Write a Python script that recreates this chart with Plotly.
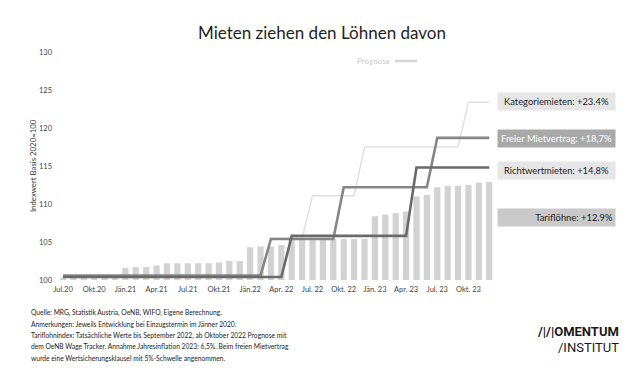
import plotly.graph_objects as go

# ---------------- data ----------------
months = list(range(42))  # Jul.20 .. Dez.23, monthly
tick_pos = list(range(0, 42, 3))
tick_labels = ["Jul.20", "Okt.20", "Jän.21", "Apr.21", "Jul.21", "Okt.21", "Jän.22",
               "Apr. 22", "Jul. 22", "Okt. 22", "Jän. 23", "Apr. 23", "Jul. 23", "Okt. 23"]

tarifloehne = [100.3, 100.3, 100.3, 100.3, 100.3, 100.3,
               101.6, 101.7, 101.7, 101.9, 102.2, 102.2, 102.2, 102.2, 102.2, 102.3, 102.5, 102.5,
               104.3, 104.4, 104.4, 104.6, 105.4, 105.4, 105.4, 105.4, 105.4, 105.4, 105.4, 105.4,
               108.4, 108.6, 108.8, 109.0, 111.0, 111.2, 112.2, 112.4, 112.4, 112.5, 112.8, 112.9]

richtwert = [100.4] * 22 + [105.8] * 12 + [114.8] * 8
freier = [100.6] * 20 + [105.4] * 7 + [112.2] * 9 + [118.7] * 6
kategorie = [100.5] * 20 + [105.5] * 4 + [111.1] * 5 + [117.5] * 10 + [123.4] * 3

y_ticks = [100, 105, 110, 115, 120, 125, 130]

label_texts = ["Kategoriemieten: +23.4%", "Freier Mietvertrag: +18,7%",
               "Richtwertmieten: +14,8%", "Tariflöhne: +12.9%"]

footnotes = [
    "Quelle: MRG, Statistik Austria, OeNB, WIFO, Eigene Berechnung.",
    "Anmerkungen: Jeweils Entwicklung bei Einzugstermin im Jänner 2020.",
    "Tariflohnindex: Tatsächliche Werte bis September 2022, ab Oktober 2022 Prognose mit",
    "dem OeNB Wage Tracker. Annahme Jahresinflation 2023: 6,5%. Beim freien Mietvertrag",
    "wurde eine Wertsicherungsklausel mit 5%-Schwelle angenommen.",
]

# ---------------- layout geometry ----------------
OFF = 8  # page body margin offset
W, H = 642 - OFF, 370 - OFF
L, R, T, B = 57 - OFF, 146, 52 - OFF, 90
PW, PH = W - L - R, H - T - B

def px_x(px):
    return (px - OFF - L) / PW

def px_y(py):
    return (H - B - (py - OFF)) / PH

FONT = "Lato, 'Noto Sans', sans-serif"

fig = go.Figure()

fig.add_trace(go.Bar(
    x=months, y=[v - 100 for v in tarifloehne], base=100,
    marker=dict(color="#d2d2d2", line=dict(width=0)),
    name="Tariflöhne", hoverinfo="skip"))

fig.add_trace(go.Scatter(x=months, y=kategorie, mode="lines",
                         line=dict(color="#e0e0e0", width=1.5), name="Kategoriemieten"))
fig.add_trace(go.Scatter(x=months, y=freier, mode="lines",
                         line=dict(color="#868686", width=2.6), name="Freier Mietvertrag"))
fig.add_trace(go.Scatter(x=months, y=richtwert, mode="lines",
                         line=dict(color="#6a6a6a", width=2.6), name="Richtwertmieten"))

annotations = []

# end labels
label_series = [kategorie, freier, richtwert, tarifloehne]
label_bg = ["#e6e6e6", "#a9a9a9", "#e6e6e6", "#c9c9c9"]
label_fc = ["#1e1e1e", "#ffffff", "#1e1e1e", "#1e1e1e"]
label_align = ["center", "center", "center", "right"]
label_shift = [1, -0.5, -2.5, -35.5]
for txt, s, bg, fc, al, sh in zip(label_texts, label_series, label_bg, label_fc, label_align, label_shift):
    annotations.append(dict(
        xref="paper", yref="y", x=px_x(497), y=s[-1], yshift=sh,
        xanchor="left", yanchor="middle", text=txt, showarrow=False,
        bgcolor=bg, width=113, height=13, borderpad=2, align=al,
        font=dict(family=FONT, size=9.4, color=fc)))

# y axis title
annotations.append(dict(xref="paper", yref="paper", x=px_x(33), y=px_y(166),
                        xanchor="center", yanchor="middle",
                        text="Indexwert Basis 2020=100", textangle=-90, showarrow=False,
                        font=dict(family=FONT, size=7.8, color="#333333")))

# Prognose legend
annotations.append(dict(xref="paper", yref="paper", x=px_x(392), y=px_y(61),
                        xanchor="right", yanchor="middle", text="Prognose", showarrow=False,
                        font=dict(family=FONT, size=8, color="#cccccc")))

# footnotes
for i, line in enumerate(footnotes):
    annotations.append(dict(xref="paper", yref="paper", x=px_x(29), y=px_y(312 + i * 11.5),
                            xanchor="left", yanchor="middle", text=line, showarrow=False,
                            font=dict(family=FONT, size=6.7, color="#222222")))

# logo
annotations.append(dict(xref="paper", yref="paper", x=px_x(621), y=px_y(331),
                        xanchor="right", yanchor="middle", text="<b>/|/|OMENTUM</b>", showarrow=False,
                        font=dict(family="Roboto, sans-serif", size=13, color="#1a1a1a")))
annotations.append(dict(xref="paper", yref="paper", x=px_x(621), y=px_y(347),
                        xanchor="right", yanchor="middle", text="/INSTITUT", showarrow=False,
                        font=dict(family="Roboto, sans-serif", size=13, color="#1a1a1a")))

shapes = [dict(type="line", xref="paper", yref="paper",
               x0=px_x(395), x1=px_x(417), y0=px_y(61), y1=px_y(61),
               line=dict(color="#d6d6d6", width=2.5))]

fig.update_layout(
    width=W, height=H,
    margin=dict(l=L, r=R, t=T, b=B),
    paper_bgcolor="white", plot_bgcolor="white",
    showlegend=False, bargap=0.4,
    title=dict(text="Mieten ziehen den Löhnen davon", x=(322 - OFF) / W, xref="container",
               y=1 - (33 - OFF) / H, yref="container", xanchor="center", yanchor="middle",
               font=dict(family=FONT, size=17, color="#1e1e1e")),
    xaxis=dict(range=[-0.58, 41.65], tickvals=tick_pos, ticktext=tick_labels,
               showgrid=False, zeroline=False, showline=False, ticks="",
               tickfont=dict(family=FONT, size=7.5, color="#444444"), ticklabelstandoff=3),
    yaxis=dict(range=[100, 130], tickvals=y_ticks, showgrid=False, zeroline=False,
               showline=False, ticks="", ticklabelstandoff=4,
               tickfont=dict(family=FONT, size=7.5, color="#444444")),
    annotations=annotations, shapes=shapes,
)

fig.write_html("out.html")
